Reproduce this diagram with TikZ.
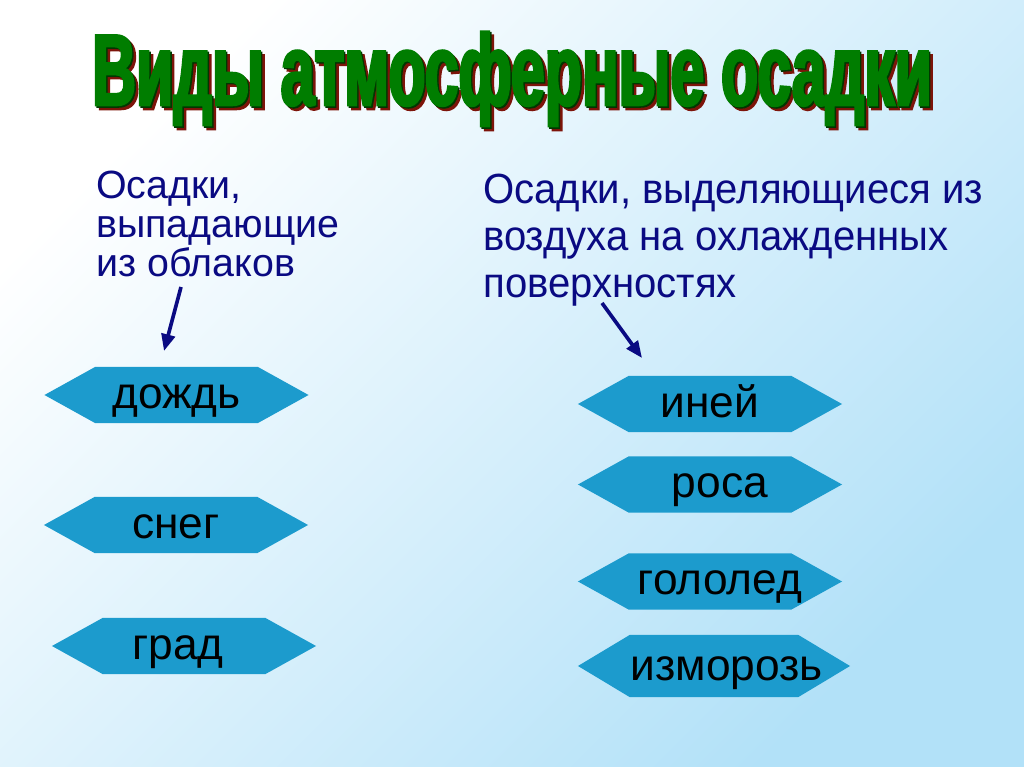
\documentclass[tikz,border=0pt]{standalone}
\usepackage{fontspec}
\setmainfont{Liberation Sans}
\newfontfamily\titlefont{Liberation Sans}[FakeStretch=0.6,FakeBold=2.5]
\newfontfamily\notefont{Liberation Sans}[FakeStretch=0.95]
\usetikzlibrary{arrows.meta,shapes.symbols}
\definecolor{rainTitle}{RGB}{0,125,0}
\definecolor{rainTitleDark}{RGB}{0,55,0}
\definecolor{rainShadow}{RGB}{125,20,10}
\definecolor{rainNavy}{RGB}{10,10,130}
\definecolor{rainBox}{RGB}{28,155,205}
\definecolor{rainSky}{RGB}{178,225,248}

% text of a box, centred on the node, shifted by #1
\newcommand\kindtext[2][0pt]{\makebox[0pt]{\hspace*{#1}\hspace*{#1}#2}}

\tikzset{
  kindbox/.style={shape=signal, signal to=west and east, signal pointer angle=58,
    fill=rainBox, inner sep=0pt, minimum width=6.6cm, minimum height=1.4cm,
    text height=0.75cm, text depth=0.1cm,
    font=\fontsize{31.5}{31.5}\selectfont, text=black},
  groupnote/.style={anchor=north west, inner sep=0pt, align=left, text=rainNavy},
  titletext/.style={anchor=base, inner sep=0pt, font=\titlefont\bfseries\fontsize{72}{72}\selectfont}
}

\begin{document}
\begin{tikzpicture}[x=0.025cm,y=-0.025cm]
    % background
    \shade[top color=white, bottom color=rainSky, shading angle=45] (0,0) rectangle (1024,767);
    \useasboundingbox (0,0) rectangle (1024,767);

    % title with shadow
    \node[titletext, text=rainShadow] (titleshadow) at (516,109) {Виды атмосферные осадки};
    \node[titletext, text=rainTitleDark] (titleedge) at (513.5,106.5) {Виды атмосферные осадки};
    \node[titletext, text=rainTitle] (title) at (512,105) {Виды атмосферные осадки};

    % two groups
    \node[groupnote, font=\fontsize{28}{27.7}\selectfont] (clouds) at (96,171)
        {Осадки,\\выпадающие\\из облаков};
    \node[groupnote, font=\notefont\fontsize{30}{33.5}\selectfont] (surface) at (483,174)
        {Осадки, выделяющиеся из\\воздуха на охлажденных\\поверхностях};

    \coordinate (cloudstail) at (181,287);
    \coordinate (cloudstip) at (164,351);
    \coordinate (surfacetail) at (602,303);
    \coordinate (surfacetip) at (642,358);
    \draw[rainNavy, line width=2.6pt, -{Triangle[length=0.42cm,width=0.34cm]}] (cloudstail) -- (cloudstip);
    \draw[rainNavy, line width=2.6pt, -{Triangle[length=0.42cm,width=0.34cm]}] (surfacetail) -- (surfacetip);

    % kinds from clouds
    \node[kindbox] (rain) at (176.5,395) {\kindtext{дождь}};
    \node[kindbox] (snow) at (176,525) {\kindtext{снег}};
    \node[kindbox] (hail) at (184,646) {\kindtext[-0.15cm]{град}};

    % kinds on surfaces
    \node[kindbox] (frost) at (710,404) {\kindtext{иней}};
    \node[kindbox] (dew) at (710,484.5) {\kindtext[0.25cm]{роса}};
    \node[kindbox] (glaze) at (710,581.5) {\kindtext[0.25cm]{гололед}};
    \node[kindbox, minimum width=6.8cm, minimum height=1.55cm, signal pointer angle=62,
          text height=0.83cm, text depth=0.1cm] (rime) at (714,666) {\kindtext[0.32cm]{изморозь}};
\end{tikzpicture}
\end{document}
